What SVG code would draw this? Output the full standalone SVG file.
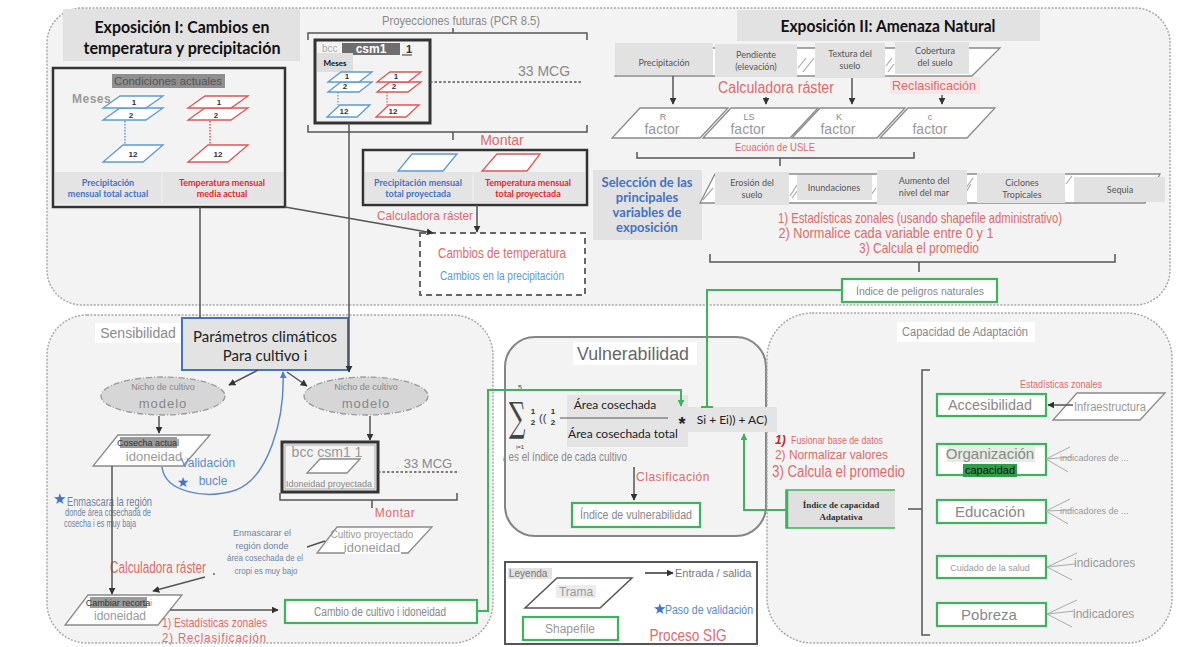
<svg xmlns="http://www.w3.org/2000/svg" width="1177" height="647" viewBox="0 0 1177 647" font-family="'Liberation Sans', Arial, sans-serif">
<defs>
<style>
.panel{fill:#f3f3f3;stroke:#a8a8a8;stroke-width:1.5;stroke-dasharray:2 1.5}
.ttl{font-family:Lato,'Noto Sans',sans-serif;font-weight:700;fill:#111}
.cal{font-family:Lato,'Noto Sans',sans-serif}
.gbg{fill:#e2e2e2}
.blk{fill:none;stroke:#333;stroke-width:2.5}
.lb{fill:#fff;stroke:#5b9bd5;stroke-width:1.3}
.lr{fill:#fff;stroke:#e05555;stroke-width:1.3}
.red{fill:#e06a6a}
.blue{fill:#4f7fc6}
.gray{fill:#8a8a8a}
.num{font-size:8px;font-weight:700;fill:#333;text-anchor:middle}
.ln{fill:none;stroke:#555;stroke-width:1.5}
.gr{fill:#fff;stroke:#3db35b;stroke-width:2.2}
.gl{fill:none;stroke:#3db35b;stroke-width:2}
.par{fill:#fff;stroke:#8a8a8a;stroke-width:1.3}
.hz{font-family:Lato,'Noto Sans',sans-serif;font-size:9px;fill:#555;text-anchor:middle}
.mid{text-anchor:middle}
.ell{fill:#d6d6d6;stroke:#9a9a9a;stroke-width:1.3;stroke-dasharray:6 2 1 2}
.fan{fill:none;stroke:#aaa;stroke-width:1}
</style>
<marker id="ah" viewBox="0 0 10 10" refX="9" refY="5" markerWidth="7" markerHeight="7" markerUnits="userSpaceOnUse" orient="auto"><path d="M0,0 L10,5 L0,10 z" fill="#333"/></marker>
<marker id="ahg" viewBox="0 0 10 10" refX="9" refY="5" markerWidth="7" markerHeight="7" markerUnits="userSpaceOnUse" orient="auto"><path d="M0,0 L10,5 L0,10 z" fill="#3db35b"/></marker>
<marker id="ahb" viewBox="0 0 10 10" refX="9" refY="5" markerWidth="7" markerHeight="7" markerUnits="userSpaceOnUse" orient="auto"><path d="M0,0 L10,5 L0,10 z" fill="#4f7fc6"/></marker>
<path id="L" d="M17,0 H60 L43,12 H0 Z"/>
<path id="L12" d="M20,0 H60 L40,17 H0 Z"/>
<path id="S" d="M13,0 H44 L31,10 H0 Z"/>
<path id="S12" d="M13,0 H43 L30,12 H0 Z"/>
</defs>

<!-- panels -->
<g id="panels">
<rect class="panel" x="47" y="8" width="1123" height="297" rx="35"/>
<rect class="panel" x="47" y="315" width="446" height="328" rx="40"/>
<rect x="505" y="337" width="261" height="199" rx="30" fill="#f3f3f3" stroke="#858585" stroke-width="2"/>
<rect class="panel" x="767" y="313" width="405" height="330" rx="45"/>
</g>

<!-- Exposición I -->
<g id="exp1-title">
<rect class="gbg" x="63" y="9" width="237" height="52"/>
<text class="ttl mid" x="182" y="33" font-size="17" textLength="175" lengthAdjust="spacingAndGlyphs">Exposición I: Cambios en</text>
<text class="ttl mid" x="182" y="54" font-size="17" textLength="197" lengthAdjust="spacingAndGlyphs">temperatura y precipitación</text>
</g>

<g id="condiciones">
<rect class="blk" x="53" y="68" width="232" height="139"/>
<rect x="55" y="172" width="228" height="32" fill="#e4e4e4"/>
<line x1="162" y1="174" x2="162" y2="202" stroke="#f3f3f3" stroke-width="1"/>
<rect x="112" y="74" width="113" height="14" fill="#8f8f8f"/>
<text x="168" y="85" font-size="11" fill="#555" class="mid" textLength="108" lengthAdjust="spacingAndGlyphs">Condiciones actuales</text>
<text x="72" y="103" font-size="12" fill="#9a9a9a" font-weight="700" letter-spacing="0.5">Meses</text>
<use href="#L" class="lb" x="103" y="108"/>
<use href="#L" class="lb" x="103" y="96"/>
<text class="num" x="134" y="105">1</text><text class="num" x="131" y="118">2</text>
<line x1="125" y1="121" x2="125" y2="145" stroke="#5b9bd5" stroke-width="1.5" stroke-dasharray="1.5 1.5"/>
<use href="#L12" class="lb" x="103" y="145"/>
<text class="num" x="133" y="157">12</text>
<use href="#L" class="lr" x="188" y="108"/>
<use href="#L" class="lr" x="188" y="96"/>
<text class="num" x="219" y="105">1</text><text class="num" x="216" y="118">2</text>
<line x1="210" y1="121" x2="210" y2="145" stroke="#e05555" stroke-width="1.5" stroke-dasharray="1.5 1.5"/>
<use href="#L12" class="lr" x="188" y="145"/>
<text class="num" x="218" y="157">12</text>
<text class="cal mid" x="108" y="186" font-size="9" font-weight="700" fill="#4472c4">Precipitación</text>
<text class="cal mid" x="108" y="197" font-size="9" font-weight="700" fill="#4472c4">mensual total actual</text>
<text class="cal mid" x="222" y="186" font-size="9" font-weight="700" fill="#e8262b">Temperatura mensual</text>
<text class="cal mid" x="222" y="197" font-size="9" font-weight="700" fill="#e8262b">media actual</text>
</g>

<g id="proyecciones">
<text x="461" y="25" font-size="13" fill="#8a8a8a" class="mid" textLength="158" lengthAdjust="spacingAndGlyphs">Proyecciones futuras (PCR 8.5)</text>
<path class="ln" d="M308,40 V33 H587 V40 M453,33 V28" stroke="#888"/>
<path class="ln" d="M308,125 V132 H587 V125 M453,132 V140" stroke="#888"/>
<rect x="315" y="40" width="115" height="83" fill="none" stroke="#333" stroke-width="3"/>
<text x="322" y="52" font-size="10" fill="#aaa">bcc</text>
<rect x="342" y="43" width="58" height="12" fill="#6e6e6e"/>
<text x="371" y="53" font-size="12" font-weight="700" fill="#fff" class="mid">csm1</text>
<text x="406" y="53" font-size="11" font-weight="700" fill="#333">1</text>
<line x1="402" y1="55" x2="412" y2="55" stroke="#333" stroke-width="1"/>
<rect x="317" y="53" width="36" height="19" fill="#dedede"/>
<text x="335" y="66" font-size="8" font-weight="700" fill="#111" class="mid cal">Meses</text>
<use href="#S" class="lb" x="328" y="82"/>
<use href="#S" class="lb" x="328" y="72"/>
<text class="num" x="347" y="79" font-size="7">1</text><text class="num" x="345" y="89" font-size="7">2</text>
<line x1="338" y1="92" x2="338" y2="105" stroke="#5b9bd5" stroke-width="1.3" stroke-dasharray="1.5 1.5"/>
<use href="#S12" class="lb" x="327" y="105"/>
<text class="num" x="344" y="114" font-size="7">12</text>
<use href="#S" class="lr" x="377" y="82"/>
<use href="#S" class="lr" x="377" y="72"/>
<text class="num" x="396" y="79" font-size="7">1</text><text class="num" x="394" y="89" font-size="7">2</text>
<line x1="387" y1="92" x2="387" y2="105" stroke="#e05555" stroke-width="1.3" stroke-dasharray="1.5 1.5"/>
<use href="#S12" class="lr" x="376" y="105"/>
<text class="num" x="393" y="114" font-size="7">12</text>
<text x="544" y="76" font-size="14" fill="#8a8a8a" class="mid">33 MCG</text>
</g>

<g id="montar-proy">
<text x="502" y="145" font-size="14" class="red mid">Montar</text>
<rect class="blk" x="363" y="150" width="224" height="55"/>
<rect x="365" y="172" width="220" height="31" fill="#e4e4e4"/>
<line x1="473" y1="174" x2="473" y2="201" stroke="#f3f3f3" stroke-width="1"/>
<polygon class="lb" points="412,154 457,154 443,171 398,171"/>
<polygon class="lr" points="497,154 540,154 527,171 482,171"/>
<text class="cal mid" x="418" y="186" font-size="9" font-weight="700" fill="#4472c4">Precipitación mensual</text>
<text class="cal mid" x="418" y="197" font-size="9" font-weight="700" fill="#4472c4">total proyectada</text>
<text class="cal mid" x="528" y="186" font-size="9" font-weight="700" fill="#e8262b">Temperatura mensual</text>
<text class="cal mid" x="528" y="197" font-size="9" font-weight="700" fill="#e8262b">total proyectada</text>
<text x="425" y="220" font-size="13" class="red mid" textLength="96" lengthAdjust="spacingAndGlyphs">Calculadora ráster</text>
</g>

<g id="cambios">
<rect x="420" y="233" width="165" height="62" fill="#fff" stroke="#666" stroke-width="2" stroke-dasharray="6 4"/>
<text x="502" y="258" font-size="15" class="red mid" textLength="128" lengthAdjust="spacingAndGlyphs">Cambios de temperatura</text>
<text x="502" y="280" font-size="12" fill="#5b9bd5" class="mid" textLength="124" lengthAdjust="spacingAndGlyphs">Cambios en la precipitación</text>
</g>

<!-- Exposición II -->
<g id="exp2-title">
<rect class="gbg" x="737" y="10" width="303" height="31"/>
<text class="ttl mid" x="888" y="32" font-size="17" textLength="215" lengthAdjust="spacingAndGlyphs">Exposición II: Amenaza Natural</text>
</g>

<g id="inputs">
<polygon class="par" points="643,48 1000,48 972,76 615,76"/>
<path d="M806,58 L798,68 M814,58 L803,72 M892,58 L886,66 M894,64 L888,72" stroke="#aaa" stroke-width="1.2"/>
<rect class="gbg" x="615" y="43" width="98" height="32"/>
<text class="hz" x="664" y="66">Precipitación</text>
<rect class="gbg" x="715" y="44" width="82" height="33"/>
<text class="hz" x="756" y="58">Pendiente</text><text class="hz" x="756" y="70">(elevación)</text>
<rect class="gbg" x="815" y="43" width="70" height="35"/>
<text class="hz" x="850" y="57">Textura del</text><text class="hz" x="850" y="69">suelo</text>
<rect class="gbg" x="895" y="42" width="74" height="32"/>
<text class="hz" x="935" y="54">Cobertura</text><text class="hz" x="935" y="66">del suelo</text>
<text x="776" y="93" font-size="16" class="red mid" textLength="116" lengthAdjust="spacingAndGlyphs">Calculadora ráster</text>
<rect x="890" y="77" width="90" height="17" fill="#f6e6e6"/>
<text x="934" y="90" font-size="13" class="red mid" textLength="84" lengthAdjust="spacingAndGlyphs">Reclasificación</text>
</g>

<g id="factors">
<polygon class="par" points="640,108 728,108 700,138 612,138"/>
<polygon class="par" points="731,108 818,108 790,138 703,138"/>
<polygon class="par" points="820,108 905,108 877,138 792,138"/>
<polygon class="par" points="908,108 995,108 967,138 880,138"/>
<text x="663" y="120" font-size="9" fill="#888" class="mid">R</text><text x="662" y="134" font-size="14" fill="#999" class="mid">factor</text>
<text x="749" y="120" font-size="9" fill="#888" class="mid">LS</text><text x="748" y="134" font-size="14" fill="#999" class="mid">factor</text>
<text x="839" y="120" font-size="9" fill="#888" class="mid">K</text><text x="838" y="134" font-size="14" fill="#999" class="mid">factor</text>
<text x="930" y="120" font-size="9" fill="#888" class="mid">c</text><text x="930" y="134" font-size="14" fill="#999" class="mid">factor</text>
<text x="775" y="151" font-size="11" class="red mid" textLength="80" lengthAdjust="spacingAndGlyphs">Ecuación de USLE</text>
<path class="ln" d="M637,152 V158 H914 V152 M780,158 V166" stroke="#777"/>
</g>

<g id="seleccion">
<rect class="gbg" x="593" y="170" width="109" height="70"/>
<text class="cal mid" x="647" y="187" font-size="13" font-weight="700" fill="#4472c4">Selección de las</text>
<text class="cal mid" x="647" y="202" font-size="13" font-weight="700" fill="#4472c4">principales</text>
<text class="cal mid" x="647" y="217" font-size="13" font-weight="700" fill="#4472c4">variables de</text>
<text class="cal mid" x="647" y="232" font-size="13" font-weight="700" fill="#4472c4">exposición</text>
</g>

<g id="hazards">
<polygon class="par" points="715,174 1160,174 1145,203 700,203"/>
<path d="M713,188 L703,200 M797,185 L790,196 M798,190 L792,198 M876,188 L869,198 M973,178 L966,188 M971,184 L966,192 M1072,176 L1066,184" stroke="#aaa" stroke-width="1.2"/>
<rect class="gbg" x="715" y="172" width="74" height="33"/>
<text class="hz" x="752" y="186">Erosión del</text><text class="hz" x="752" y="198">suelo</text>
<rect class="gbg" x="797" y="175" width="75" height="25"/>
<text class="hz" x="834" y="191">Inundaciones</text>
<rect class="gbg" x="877" y="170" width="90" height="35"/>
<text class="hz" x="924" y="184">Aumento del</text><text class="hz" x="924" y="196">nivel del mar</text>
<rect class="gbg" x="977" y="173" width="88" height="30"/>
<text class="hz" x="1022" y="186">Ciclones</text><text class="hz" x="1022" y="198">Tropicales</text>
<rect class="gbg" x="1074" y="177" width="91" height="25"/>
<text class="hz" x="1120" y="193">Sequia</text>
<text x="920" y="223" font-size="15" class="red mid" textLength="284" lengthAdjust="spacingAndGlyphs">1) Estadísticas zonales (usando shapefile administrativo)</text>
<text x="886" y="238" font-size="15" class="red mid" textLength="215" lengthAdjust="spacingAndGlyphs">2) Normalice cada variable entre 0 y 1</text>
<text x="919" y="253" font-size="15" class="red mid" textLength="120" lengthAdjust="spacingAndGlyphs">3) Calcula el promedio</text>
<path class="ln" d="M710,254 V262 H1115 V254 M919,262 V272" stroke="#777"/>
</g>

<g id="indice-peligros">
<rect class="gr" x="842" y="279" width="155" height="23"/>
<text x="920" y="295" font-size="11" fill="#888" class="mid" textLength="128" lengthAdjust="spacingAndGlyphs">Índice de peligros naturales</text>
</g>

<!-- Sensibilidad -->
<g id="sensibilidad-title">
<rect x="95" y="323" width="85" height="20" fill="#fff"/>
<text x="138" y="338" font-size="14" fill="#8a8a8a" class="mid">Sensibilidad</text>
</g>

<g id="parametros">
<rect x="182" y="318" width="166" height="52" fill="#e3e3e3" stroke="#4472c4" stroke-width="2"/>
<text class="cal mid" x="265" y="342" font-size="15" fill="#222">Parámetros climáticos</text>
<text class="cal mid" x="265" y="361" font-size="15" fill="#222">Para cultivo i</text>
</g>

<g id="nicho-izq">
<ellipse class="ell" cx="163" cy="396" rx="62" ry="19"/>
<text x="163" y="390" font-size="9" fill="#888" class="mid">Nicho de cultivo</text>
<text x="163" y="408" font-size="13" fill="#888" class="mid" letter-spacing="1">modelo</text>
</g>
<g id="nicho-der">
<ellipse class="ell" cx="366" cy="396" rx="62" ry="19"/>
<text x="366" y="390" font-size="9" fill="#888" class="mid">Nicho de cultivo</text>
<text x="366" y="408" font-size="13" fill="#888" class="mid" letter-spacing="1">modelo</text>
</g>

<g id="cosecha">
<polygon class="par" points="118,435 210,435 183,466 93,466"/>
<rect x="120" y="437" width="57" height="11" fill="#9a9a9a"/>
<text x="148" y="446" font-size="9" fill="#333" class="mid">Cosecha actual</text>
<rect x="126" y="449" width="58" height="14" fill="#fff"/>
<text x="154" y="461" font-size="13" fill="#999" class="mid">idoneidad</text>
</g>

<g id="validacion">
<text x="208" y="467" font-size="12" fill="#5b8ac8" class="mid">Validación</text>
<text x="183" y="487" font-size="14" fill="#4472c4" class="mid" font-family="'DejaVu Sans', sans-serif">★</text>
<text x="213" y="485" font-size="12" fill="#5b8ac8" class="mid">bucle</text>
</g>

<g id="bcc-proy">
<rect x="282" y="442" width="96" height="50" fill="#f3f3f3" stroke="#333" stroke-width="3"/>
<rect x="285" y="445" width="90" height="44" fill="none" stroke="#aaa" stroke-width="1"/>
<text x="327" y="457" font-size="14" fill="#999" class="mid">bcc csm1 1</text>
<polygon class="par" points="320,459 360,459 347,473 307,473"/>
<text x="329" y="487" font-size="9" fill="#888" class="mid" textLength="86" lengthAdjust="spacingAndGlyphs">Idoneidad proyectada</text>
<text x="428" y="468" font-size="13" fill="#8a8a8a" class="mid">33 MCG</text>
<path class="ln" d="M280,493 V500 H457 V493 M372,500 V508" stroke="#888"/>
<text x="395" y="517" font-size="12" class="red mid" letter-spacing="0.5">Montar</text>
</g>

<g id="cultivo-proy">
<polygon class="par" points="337,527 432,527 408,553 317,553"/>
<text x="372" y="538" font-size="10" fill="#999" class="mid">Cultivo proyectado</text>
<rect x="345" y="541" width="56" height="13" fill="#fff"/>
<text x="372" y="552" font-size="13" fill="#999" class="mid">idoneidad</text>
</g>

<g id="enmascarar-der">
<text x="262" y="536" font-size="9.5" fill="#6d84a3" class="mid" textLength="58" lengthAdjust="spacingAndGlyphs">Enmascarar el</text>
<text x="262" y="548.5" font-size="9.5" fill="#6d84a3" class="mid" textLength="53" lengthAdjust="spacingAndGlyphs">región donde</text>
<text x="265" y="561" font-size="9.5" fill="#6d84a3" class="mid" textLength="76" lengthAdjust="spacingAndGlyphs">área cosechada de el</text>
<text x="266" y="574" font-size="9.5" fill="#6d84a3" class="mid" textLength="63" lengthAdjust="spacingAndGlyphs">cropi es muy bajo</text>
<text x="158" y="573" font-size="16" class="red mid" textLength="96" lengthAdjust="spacingAndGlyphs">Calculadora ráster</text>
<circle cx="214" cy="574" r="1" fill="#666"/>
</g>

<g id="enmascarar-izq">
<text x="53" y="504" font-size="15" fill="#4472c4" font-family="'DejaVu Sans', sans-serif">★</text>
<text x="67" y="506" font-size="13" fill="#6d84a3" textLength="85" lengthAdjust="spacingAndGlyphs">Enmascara la región</text>
<text x="108" y="516" font-size="10" fill="#6d84a3" class="mid" textLength="86" lengthAdjust="spacingAndGlyphs">donde área cosechada de</text>
<text x="100" y="527" font-size="10" fill="#6d84a3" class="mid" textLength="72" lengthAdjust="spacingAndGlyphs">cosecha i es muy baja</text>
</g>

<g id="cambiar-recorta">
<polygon class="par" points="88,595 182,595 158,625 65,625"/>
<rect x="90" y="597" width="57" height="11" fill="#9a9a9a"/>
<text x="118" y="606" font-size="9" fill="#333" class="mid">Cambiar recorta</text>
<text x="150" y="606" font-size="9" fill="#999">i</text>
<text x="120" y="620" font-size="12" fill="#999" class="mid">idoneidad</text>
<text x="162" y="627" font-size="13" class="red" textLength="105" lengthAdjust="spacingAndGlyphs">1) Estadísticas zonales</text>
<text x="162" y="642" font-size="13" class="red" textLength="105" lengthAdjust="spacingAndGlyphs" letter-spacing="1">2) Reclasificación</text>
</g>

<g id="cambio-cultivo">
<rect class="gr" x="285" y="600" width="192" height="23"/>
<text x="380" y="616" font-size="12" fill="#888" class="mid" textLength="132" lengthAdjust="spacingAndGlyphs">Cambio de cultivo i idoneidad</text>
</g>

<!-- Vulnerabilidad -->
<g id="vulnerabilidad">
<rect x="573" y="342" width="124" height="23" fill="#fff"/>
<text x="633" y="360" font-size="18" fill="#666" class="mid" textLength="112" lengthAdjust="spacingAndGlyphs">Vulnerabilidad</text>
<text transform="translate(509,431) scale(0.72,1.25)" font-size="32" fill="#444" font-family="'DejaVu Serif', serif">∑</text>
<text x="520" y="390" font-size="7" fill="#444" class="mid">5</text>
<text x="520" y="449" font-size="6" fill="#444" class="mid">i=1</text>
<text x="533" y="414" font-size="8" font-weight="700" fill="#333" class="mid">1</text>
<text x="533" y="425" font-size="8" font-weight="700" fill="#333" class="mid">2</text>
<text x="539" y="422" font-size="11" fill="#333">((</text>
<text x="553" y="414" font-size="8" font-weight="700" fill="#333" class="mid">1</text>
<text x="553" y="425" font-size="8" font-weight="700" fill="#333" class="mid">2</text>
<rect x="567" y="395" width="121" height="52" fill="#e4e4e4"/>
<line x1="560" y1="418" x2="668" y2="418" stroke="#555" stroke-width="1"/>
<text class="cal mid" x="615" y="409" font-size="12" fill="#222">Área cosechada</text>
<text class="cal mid" x="623" y="438" font-size="12" fill="#222">Área cosechada total</text>
<text x="682" y="430" font-size="18" font-weight="700" fill="#222" class="mid">*</text>
<rect x="688" y="407" width="89" height="25" fill="#e4e4e4"/>
<text class="cal mid" x="732" y="424" font-size="12" fill="#222">Si + Ei)) + AC)</text>
<text x="565" y="461" font-size="12" fill="#888" class="mid" textLength="124" lengthAdjust="spacingAndGlyphs">/ es el índice de cada cultivo</text>
<text x="673" y="481" font-size="12" class="red mid" letter-spacing="0.5">Clasificación</text>
<rect class="gr" x="572" y="503" width="128" height="24"/>
<text x="636" y="519" font-size="12" fill="#888" class="mid" textLength="112" lengthAdjust="spacingAndGlyphs">Índice de vulnerabilidad</text>
</g>

<g id="pasos-capacidad">
<text x="775" y="444" font-size="12" font-weight="700" font-style="italic" fill="#c0282b">1)</text>
<text x="791" y="444" font-size="10" class="red" textLength="92" lengthAdjust="spacingAndGlyphs">Fusionar base de datos</text>
<text x="775" y="459" font-size="12" class="red" textLength="113" lengthAdjust="spacingAndGlyphs">2) Normalizar valores</text>
<text x="772" y="477" font-size="16" class="red" textLength="133" lengthAdjust="spacingAndGlyphs">3) Calcula el promedio</text>
</g>

<!-- Capacidad -->
<g id="capacidad-title">
<rect x="897" y="322" width="138" height="20" fill="#fff"/>
<text x="965" y="336" font-size="12" fill="#888" class="mid" textLength="126" lengthAdjust="spacingAndGlyphs">Capacidad de Adaptación</text>
</g>

<g id="indice-capacidad">
<rect x="786" y="490" width="109" height="38" fill="#e0e0e0"/>
<path d="M895,490 H786 V528 H895" fill="none" stroke="#3db35b" stroke-width="1.5"/>
<line x1="787" y1="490" x2="787" y2="528" stroke="#3db35b" stroke-width="2.5"/>
<text x="841" y="508" font-size="9" font-weight="700" fill="#333" class="mid" font-family="'Liberation Serif', serif">Índice de capacidad</text>
<text x="841" y="520" font-size="9" font-weight="700" fill="#333" class="mid" font-family="'Liberation Serif', serif">Adaptativa</text>
</g>

<g id="bracket-capacidad">
<path class="ln" d="M930,370 H922 V635 H930 M922,509 H908" stroke="#888"/>
</g>

<g id="accesibilidad">
<text x="1061" y="388" font-size="11" class="red mid" textLength="82" lengthAdjust="spacingAndGlyphs">Estadísticas zonales</text>
<rect class="gr" x="937" y="394" width="109" height="22"/>
<text x="990" y="410" font-size="14" fill="#888" class="mid" textLength="84" lengthAdjust="spacingAndGlyphs">Accesibilidad</text>
</g>
<g id="infraestructura">
<polygon class="par" points="1077,393 1165,393 1140,420 1053,420"/>
<text x="1110" y="411" font-size="12" fill="#999" class="mid" textLength="72" lengthAdjust="spacingAndGlyphs">Infraestructura</text>
</g>

<g id="organizacion">
<rect class="gr" x="937" y="444" width="109" height="31"/>
<rect x="947" y="445" width="88" height="17" fill="#e4ece4"/>
<text x="990" y="459" font-size="15" fill="#888" class="mid">Organización</text>
<rect x="963" y="464" width="54" height="13" fill="#2e9e4a"/>
<text x="990" y="474" font-size="11" fill="#111" class="mid">capacidad</text>
<text x="1060" y="461" font-size="9" fill="#999">indicadores de ...</text>
</g>
<g id="educacion">
<rect class="gr" x="937" y="500" width="109" height="23"/>
<text x="990" y="517" font-size="15" fill="#888" class="mid">Educación</text>
<text x="1060" y="514" font-size="9" fill="#999">indicadores de ...</text>
</g>
<g id="salud">
<rect class="gr" x="937" y="556" width="109" height="22"/>
<text x="990" y="571" font-size="9" fill="#999" class="mid">Cuidado de la salud</text>
<text x="1074" y="567" font-size="12" fill="#999">indicadores</text>
</g>
<g id="pobreza">
<rect class="gr" x="937" y="603" width="109" height="23"/>
<text x="989" y="620" font-size="15" fill="#888" class="mid">Pobreza</text>
<text x="1073" y="618" font-size="12" fill="#999">indicadores</text>
</g>

<!-- Leyenda -->
<g id="leyenda">
<rect x="505" y="562" width="252" height="82" fill="#fff" stroke="#555" stroke-width="2"/>
<rect x="508" y="568" width="44" height="11" fill="#e2e2e2"/>
<text x="509" y="577" font-size="10" fill="#777">Leyenda</text>
<line x1="645" y1="573" x2="673" y2="573" stroke="#333" stroke-width="1.5" marker-end="url(#ah)"/>
<text x="675" y="577" font-size="11" fill="#777">Entrada / salida</text>
<polygon points="557,578 632,578 600,608 525,608" fill="#fff" stroke="#555" stroke-width="1.5"/>
<rect x="556" y="585" width="40" height="13" fill="#ececec"/>
<text x="576" y="596" font-size="12" fill="#999" class="mid">Trama</text>
<text x="653" y="614" font-size="15" fill="#4472c4" font-family="'DejaVu Sans', sans-serif">★</text>
<text x="665" y="614" font-size="12" fill="#5b8ac8" textLength="88" lengthAdjust="spacingAndGlyphs">Paso de validación</text>
<rect class="gr" x="523" y="617" width="95" height="23"/>
<text x="570" y="633" font-size="12" fill="#999" class="mid">Shapefile</text>
<text x="688" y="641" font-size="17" class="red mid" textLength="77" lengthAdjust="spacingAndGlyphs">Proceso SIG</text>
</g>

<!-- connectors -->
<g id="connectors">
<path class="ln" d="M285,207 L433,233" marker-end="url(#ah)"/>
<path class="ln" d="M477,205 V232" marker-end="url(#ah)"/>
<path class="ln" d="M430,82 H582" stroke="#222" stroke-width="3" stroke-dasharray="2.5 2"/>
<path class="ln" d="M200,207 V318"/>
<path class="ln" d="M349,123 V372" marker-end="url(#ah)"/>
<path class="ln" d="M673,76 V104" marker-end="url(#ah)"/>
<path class="ln" d="M766,97 V104" marker-end="url(#ah)"/>
<path class="ln" d="M852,78 V104" marker-end="url(#ah)"/>
<path class="ln" d="M942,95 V104" marker-end="url(#ah)"/>
<path class="ln" d="M258,370 L229,385" marker-end="url(#ah)"/>
<path class="ln" d="M287,372 L307,386" marker-end="url(#ah)"/>
<path class="ln" d="M159,416 V433" marker-end="url(#ah)"/>
<path class="ln" d="M370,416 V440" marker-end="url(#ah)"/>
<path class="ln" d="M112,466 V594" marker-end="url(#ah)"/>
<path d="M162,467 C165,492 205,500 236,490 C268,478 285,420 283,372" fill="none" stroke="#5b8ac8" stroke-width="1.5" marker-end="url(#ahb)"/>
<path class="ln" d="M378,472 H458" stroke="#222" stroke-width="3" stroke-dasharray="2.5 2"/>
<path class="ln" d="M307,547 L325,541"/>
<path class="ln" d="M205,577 L153,591" marker-end="url(#ah)"/>
<path class="ln" d="M170,610 H278" stroke-width="2" marker-end="url(#ah)"/>
<path class="gl" d="M477,611 H488 V390 H681 V406" marker-end="url(#ahg)"/>
<path class="gl" d="M842,290 H707 V407 M701,407 H713"/>
<path class="gl" d="M786,510 H744 V434" marker-end="url(#ahg)"/>
<path class="ln" d="M634,467 V500" stroke="#555" stroke-width="1" marker-end="url(#ah)"/>
<path class="ln" d="M1073,405 H1048" marker-end="url(#ah)"/>
<path class="fan" d="M1046,459 L1070,447 M1046,459 L1072,457 M1046,459 L1068,472"/>
<path class="fan" d="M1046,511 L1070,499 M1046,511 L1072,510 M1046,511 L1068,524"/>
<path class="fan" d="M1047,567 L1077,553 M1047,567 L1075,564 M1047,567 L1072,580"/>
<path class="fan" d="M1047,614 L1077,600 M1047,614 L1075,611 M1047,614 L1072,627"/>
</g>
</svg>
